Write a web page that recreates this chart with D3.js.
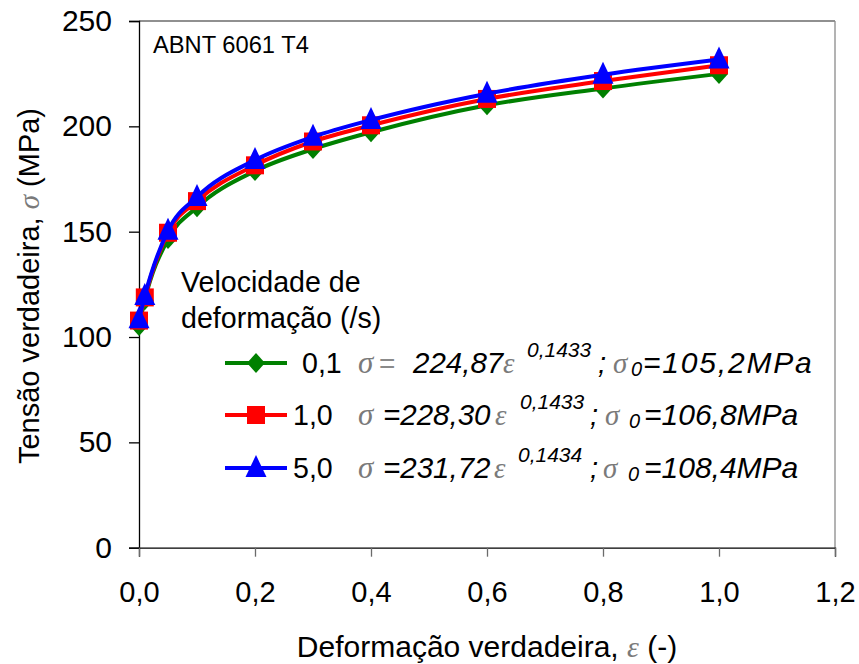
<!DOCTYPE html>
<html>
<head>
<meta charset="utf-8">
<script src="https://cdn.jsdelivr.net/npm/d3@7"></script>
<style>
  body { margin: 0; background: #fff; }
  text { font-family: "Liberation Sans", Arial, Helvetica, sans-serif; fill: #000; }
  .sym { font-family: "Liberation Serif", "DejaVu Serif", serif; font-style: italic; fill: #7a7a7a; }
  .it { font-style: italic; }
</style>
</head>
<body>
<svg id="chart" width="859" height="664"></svg>
<script>
// True strain (-) at which the curves are marked
const strain = [0, 0.01, 0.05, 0.1, 0.2, 0.3, 0.4, 0.6, 0.8, 1.0];

// True stress (MPa) for each strain rate
const stressRate01 = [105.2, 117.5, 146.5, 161.6, 178.8, 189.2, 197.2, 210.0, 218.0, 224.9];
const stressRate10 = [107.8, 118.8, 149.5, 164.5, 181.5, 192.8, 200.5, 213.0, 221.5, 229.0];
const stressRate50 = [108.4, 119.5, 150.5, 166.5, 184.0, 195.0, 203.0, 215.5, 224.5, 231.7];

// Strain rate labels (/s)
const rateLabels = ["0,1", "1,0", "5,0"];

// Hollomon fit parameters written in the legend
const fitK = ["224,87", "228,30", "231,72"];
const fitN = ["0,1433", "0,1433", "0,1434"];
const fitSigma0 = ["105,2MPa", "106,8MPa", "108,4MPa"];

// Axis ticks
const xTicks = [0, 0.2, 0.4, 0.6, 0.8, 1.0, 1.2];
const yTicks = [0, 50, 100, 150, 200, 250];

const colors = ["#008000", "#ff0000", "#0000ff"];
const shapes = ["diamond", "square", "triangle"];

const svg = d3.select("#chart");
const plotLeft = 139, plotRight = 835, plotTop = 21, plotBottom = 547.7;

const x = d3.scaleLinear().domain([0, 1.2]).range([plotLeft, plotRight]);
const y = d3.scaleLinear().domain([0, 250]).range([plotBottom, plotTop]);

const comma = v => d3.format(".1f")(v).replace(".", ",");

// Plot-area frame (top and right)
svg.append("line").attr("x1", plotLeft).attr("x2", plotRight).attr("y1", plotTop).attr("y2", plotTop)
  .attr("stroke", "#6b6b6b").attr("stroke-width", 1.3);
svg.append("line").attr("x1", plotRight).attr("x2", plotRight).attr("y1", plotTop).attr("y2", plotBottom)
  .attr("stroke", "#8a8a8a").attr("stroke-width", 1.3);

// Y axis
const yAxis = svg.append("g").attr("transform", `translate(${plotLeft},0)`)
  .call(d3.axisLeft(y).tickValues(yTicks).tickSize(10).tickPadding(17).tickFormat(d3.format("d")));
yAxis.selectAll("text").attr("font-size", 30).style("font-family", "'Liberation Sans', Arial, sans-serif");
yAxis.selectAll("path, line").attr("stroke", "#000").attr("stroke-width", 1.3);

// X axis
const xAxis = svg.append("g").attr("transform", `translate(0,${plotBottom})`)
  .call(d3.axisBottom(x).tickValues(xTicks).tickSize(9).tickPadding(25).tickFormat(comma));
xAxis.selectAll("text").attr("font-size", 29).style("font-family", "'Liberation Sans', Arial, sans-serif");
xAxis.select("path").attr("stroke", "#000").attr("stroke-width", 1.3);
xAxis.selectAll("line").attr("stroke", "#6b6b6b").attr("stroke-width", 1.3);

// Marker shapes
function markerPath(shape) {
  if (shape === "diamond") return "M0,-10L9,0L0,10L-9,0Z";
  if (shape === "square") return "M-9,-9H9V9H-9Z";
  return "M0,-13L10.5,9H-10.5Z";
}

const series = [stressRate01, stressRate10, stressRate50];
const line = d3.line().x(d => x(d[0])).y(d => y(d[1])).curve(d3.curveMonotoneX);

series.forEach((vals, i) => {
  const pts = strain.map((s, j) => [s, vals[j]]);
  svg.append("path").datum(pts)
    .attr("d", line).attr("fill", "none")
    .attr("stroke", colors[i]).attr("stroke-width", 4).attr("stroke-linejoin", "round");
  svg.append("g").selectAll("path").data(pts).join("path")
    .attr("transform", d => `translate(${x(d[0])},${y(d[1])})`)
    .attr("d", markerPath(shapes[i])).attr("fill", colors[i]);
});

// Material label
svg.append("text").attr("x", 153).attr("y", 53).attr("font-size", 23.7).text("ABNT 6061 T4");

// Legend title
svg.append("text").attr("x", 181).attr("y", 292).attr("font-size", 28.6).text("Velocidade de");
svg.append("text").attr("x", 181).attr("y", 328).attr("font-size", 28.6).text("deformação (/s)");

// Legend rows
const rowY = [373, 425, 478];
const labelX = [302, 293, 293];
// Horizontal positions and spacing of the equation pieces in each row
const eqX = [
  { s1: 358, eq: 379, k: 413, e: 503, n: 527, semi: 598, s2: 613, sub: 631, s0: 643, s0Gap: 1.8 },
  { s1: 358, eq: 383, k: 383, e: 495, n: 520, semi: 590, s2: 605, sub: 629, s0: 644, s0Gap: 0 },
  { s1: 358, eq: 383, k: 383, e: 494, n: 518, semi: 590, s2: 603, sub: 628, s0: 644, s0Gap: 0 }
];

rateLabels.forEach((lab, i) => {
  const cy = rowY[i] - 10;
  svg.append("line").attr("x1", 225).attr("x2", 287).attr("y1", cy).attr("y2", cy)
    .attr("stroke", colors[i]).attr("stroke-width", 4);
  svg.append("path").attr("transform", `translate(256,${cy})`)
    .attr("d", markerPath(shapes[i])).attr("fill", colors[i]);
  svg.append("text").attr("x", labelX[i]).attr("y", rowY[i]).attr("font-size", 28.6).text(lab);

  const p = eqX[i];
  const by = rowY[i];
  svg.append("text").attr("class", "sym").attr("x", p.s1).attr("y", by).attr("font-size", 31).text("σ");
  if (i === 0) {
    svg.append("text").attr("x", p.eq).attr("y", by).attr("font-size", 28)
      .style("fill", "#8a8a8a").text("=");
    svg.append("text").attr("class", "it").attr("x", p.k).attr("y", by).attr("font-size", 29.5).text(fitK[i]);
  } else {
    svg.append("text").attr("class", "it").attr("x", p.k).attr("y", by).attr("font-size", 29.5).text("=" + fitK[i]);
  }
  svg.append("text").attr("class", "sym").attr("x", p.e).attr("y", by).attr("font-size", 29).text("ε");
  svg.append("text").attr("class", "it").attr("x", p.n).attr("y", by - 16).attr("font-size", 21).text(fitN[i]);
  svg.append("text").attr("class", "it").attr("x", p.semi).attr("y", by).attr("font-size", 29).text(";");
  svg.append("text").attr("class", "sym").attr("x", p.s2).attr("y", by).attr("font-size", 29).text("σ");
  svg.append("text").attr("class", "it").attr("x", p.sub).attr("y", by + 3).attr("font-size", 20).text("0");
  svg.append("text").attr("class", "it").attr("x", p.s0).attr("y", by).attr("font-size", 30)
    .attr("letter-spacing", p.s0Gap).text("=" + fitSigma0[i]);
});

// Axis titles
const xt = svg.append("text").attr("x", (plotLeft + plotRight) / 2).attr("y", 657)
  .attr("text-anchor", "middle").attr("font-size", 30);
xt.append("tspan").text("Deformação verdadeira, ");
xt.append("tspan").attr("class", "sym").text("ε");
xt.append("tspan").text("  (-)");

const yt = svg.append("text").attr("transform", "translate(39,286) rotate(-90)")
  .attr("text-anchor", "middle").attr("font-size", 29);
yt.append("tspan").text("Tensão verdadeira, ");
yt.append("tspan").attr("class", "sym").text("σ");
yt.append("tspan").text("  (MPa)");
</script>
</body>
</html>
